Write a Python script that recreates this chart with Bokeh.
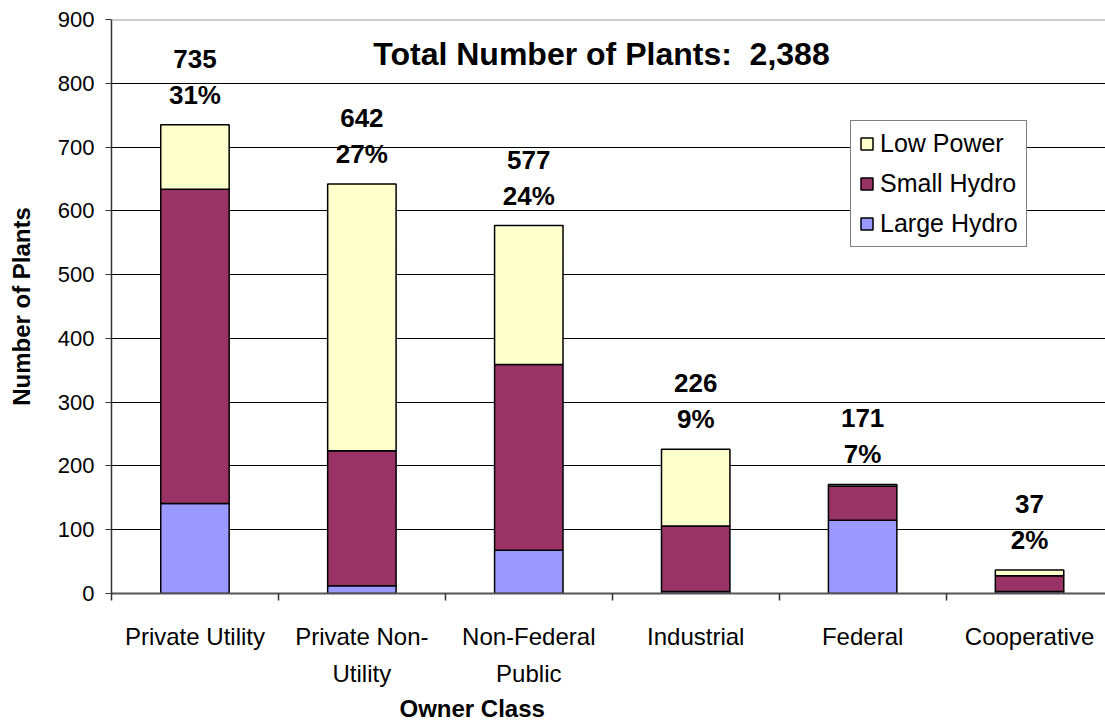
from bokeh.plotting import figure
from bokeh.models import (FixedTicker, Label, Legend, LegendItem, Span, ColumnDataSource, Title)
from bokeh.embed import file_html
from bokeh.resources import INLINE
from bokeh.core.properties import value

categories = ["Private Utility", "Private Non-\nUtility", "Non-Federal\nPublic",
              "Industrial", "Federal", "Cooperative"]
large_hydro = [141, 12, 68, 3, 115, 3]
small_hydro = [493, 212, 291, 103, 53, 25]
low_power = [101, 418, 218, 120, 3, 9]
totals = [735, 642, 577, 226, 171, 37]
pct_labels = ["31%", "27%", "24%", "9%", "7%", "2%"]
y_ticks = [0, 100, 200, 300, 400, 500, 600, 700, 800, 900]
title_text = "Total Number of Plants:\u00a0\u00a02,388"

FONT = "Liberation Sans"
xs = [i + 0.5 for i in range(len(categories))]

p = figure(width=1105, height=723, x_range=(0, 5.955), y_range=(0, 900),
           output_backend="svg", toolbar_location=None,
           min_border_left=111, min_border_right=0, min_border_top=19,
           min_border_bottom=128)
p.outline_line_color = None
p.background_fill_color = "white"

src = ColumnDataSource(dict(
    x=xs, large=large_hydro, small=small_hydro, low=low_power,
    b0=[0] * len(xs),
    b1=large_hydro,
    b2=[a + b for a, b in zip(large_hydro, small_hydro)],
    t2=[a + b + c for a, b, c in zip(large_hydro, small_hydro, low_power)],
    total=totals, pct=pct_labels,
    num=[str(t) for t in totals],
))

W = 0.41
r_large = p.vbar(x="x", bottom="b0", top="b1", width=W, source=src,
                 fill_color="#9999FF", line_color="black", line_width=1.5)
r_small = p.vbar(x="x", bottom="b1", top="b2", width=W, source=src,
                 fill_color="#993366", line_color="black", line_width=1.5)
r_low = p.vbar(x="x", bottom="b2", top="t2", width=W, source=src,
               fill_color="#FFFFCC", line_color="black", line_width=1.5)

p.text(x="x", y="total", text="num", source=src, y_offset=-66,
       text_align="center", text_baseline="middle",
       text_font=value(FONT), text_font_style="bold", text_font_size="26px",
       text_color="black")
p.text(x="x", y="total", text="pct", source=src, y_offset=-30,
       text_align="center", text_baseline="middle",
       text_font=value(FONT), text_font_style="bold", text_font_size="26px",
       text_color="black")

# grid
p.xgrid.visible = False
p.ygrid.ticker = FixedTicker(ticks=y_ticks)
p.ygrid.grid_line_color = "black"
p.ygrid.grid_line_width = 1
p.add_layout(Span(location=900, dimension="width", line_color="#999999", line_width=2))

# y axis
p.yaxis.ticker = FixedTicker(ticks=y_ticks)
p.yaxis.axis_line_color = "#333333"
p.yaxis.axis_line_width = 1.5
p.yaxis.major_tick_in = 0
p.yaxis.major_tick_out = 6
p.yaxis.major_tick_line_color = "#333333"
p.yaxis.minor_tick_line_color = None
p.yaxis.major_label_text_font = FONT
p.yaxis.major_label_text_font_size = "22px"
p.yaxis.major_label_text_color = "black"
p.yaxis.major_label_standoff = 11
p.yaxis.axis_label = "Number of Plants"
p.yaxis.axis_label_text_font = FONT
p.yaxis.axis_label_text_font_style = "bold"
p.yaxis.axis_label_text_font_size = "24px"
p.yaxis.axis_label_text_color = "black"
p.yaxis.axis_label_standoff = 20

# x axis
p.xaxis.ticker = FixedTicker(ticks=xs, minor_ticks=list(range(len(categories) + 1)))
p.xaxis.major_label_overrides = {x: c for x, c in zip(xs, categories)}
p.xaxis.major_tick_line_color = None
p.xaxis.major_tick_in = 0
p.xaxis.major_tick_out = 0
p.xaxis.minor_tick_in = 0
p.xaxis.minor_tick_out = 7
p.xaxis.minor_tick_line_color = "#333333"
p.xaxis.minor_tick_line_width = 1.5
p.xaxis.axis_line_color = "#555555"
p.xaxis.axis_line_width = 2
p.xaxis.major_label_text_font = FONT
p.xaxis.major_label_text_font_size = "24px"
p.xaxis.major_label_text_color = "black"
p.xaxis.major_label_standoff = 22
p.xaxis.major_label_text_line_height = 1.4

p.add_layout(Title(text="Owner Class", align="left", offset=288,
                   text_font=FONT, text_font_style="bold",
                   text_font_size="24px", text_color="black", standoff=4),
             "below")
p.add_layout(Label(x=490, y=540, x_units="screen", y_units="screen",
                   text=title_text, text_font=FONT, text_font_style="bold",
                   text_font_size="32px", text_color="black", text_align="center",
                   text_baseline="middle"))

legend = Legend(items=[LegendItem(label="Low Power", renderers=[r_low]),
                       LegendItem(label="Small Hydro", renderers=[r_small]),
                       LegendItem(label="Large Hydro", renderers=[r_large])],
                location=(739, 346), label_text_font=FONT,
                label_text_font_size="25px", label_text_color="black",
                glyph_width=15, glyph_height=15,
                spacing=11, padding=8, margin=0,
                border_line_color="black", border_line_width=1,
                background_fill_alpha=1, label_standoff=6)
p.add_layout(legend)

open("out.html", "w").write(file_html(p, INLINE))
